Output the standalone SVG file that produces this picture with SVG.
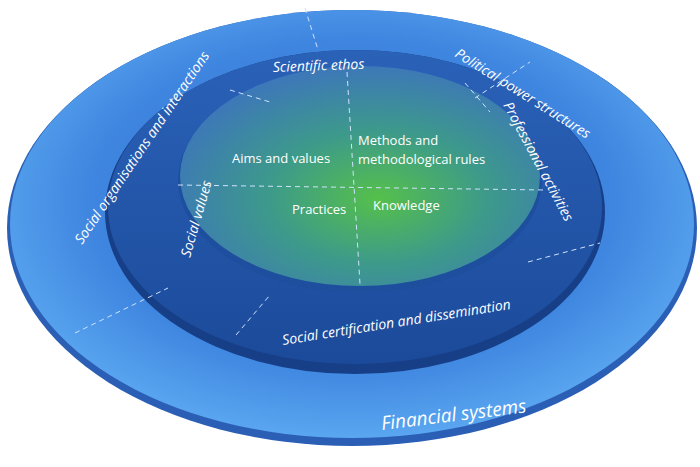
<svg xmlns="http://www.w3.org/2000/svg" width="700" height="467" viewBox="0 0 700 467">
<defs>
<radialGradient id="outer" cx="0.5" cy="0.45" r="0.55">
<stop offset="0" stop-color="#2f6fd0"/><stop offset="0.7" stop-color="#3f86e0"/><stop offset="1" stop-color="#5aa6f0"/>
</radialGradient>
<linearGradient id="mid" x1="0" y1="0" x2="0" y2="1">
<stop offset="0" stop-color="#2a62b8"/><stop offset="1" stop-color="#1c4a9a"/>
</linearGradient>
<radialGradient id="inner" cx="0.55" cy="0.6" r="0.6">
<stop offset="0" stop-color="#56c04a"/><stop offset="0.5" stop-color="#3d9a8a"/><stop offset="1" stop-color="#3d78b8"/>
</radialGradient>
<style>
text{font-family:"Open Sans","DejaVu Sans",sans-serif;fill:#fff;font-style:italic}
.d{stroke:#cfe3ff;stroke-width:1;stroke-dasharray:5 4;fill:none}
.s{font-size:14px}
.m{font-size:13px;font-style:normal}
</style>
</defs>
<g id="outer-ring">
<ellipse cx="352" cy="228" rx="345" ry="218" fill="#2a5fb5"/>
<ellipse cx="352" cy="224" rx="342" ry="214" fill="url(#outer)"/>
</g>
<g id="middle-ring">
<ellipse cx="355" cy="212" rx="250" ry="162" fill="#173f88"/>
<ellipse cx="355" cy="207" rx="247" ry="157" fill="url(#mid)"/>
</g>
<g id="inner-disc">
<ellipse cx="360" cy="180" rx="182" ry="113" fill="#1d4f9e"/>
<ellipse cx="360" cy="176" rx="180" ry="110" fill="url(#inner)"/>
</g>
<g id="connectors">
<path class="d" d="M305 8 L318 50"/>
<path class="d" d="M475 98 L530 62"/>
<path class="d" d="M528 262 L600 243"/>
<path class="d" d="M75 333 L168 288"/>
<path class="d" d="M230 90 L270 102"/>
<path class="d" d="M465 83 L490 112"/>
<path class="d" d="M236 335 L270 295"/>
<path class="d" d="M178 185 L545 190"/>
<path class="d" d="M347 72 L360 284"/>
</g>
<g id="labels">
<text class="s" x="0" y="0" transform="translate(82 245) rotate(-56)">Social organisations and interactions</text>
<text class="s" x="0" y="0" transform="translate(454 56) rotate(32)">Political power structures</text>
<text class="s" x="273" y="72" transform="rotate(-2 273 72)">Scientific ethos</text>
<text class="s" x="0" y="0" transform="translate(503 105) rotate(62)">Professional activities</text>
<text class="s" x="0" y="0" transform="translate(190 258) rotate(-74)">Social values</text>
<text class="s" x="283" y="345" transform="rotate(-9 283 345)">Social certification and dissemination</text>
<text x="382" y="430" font-size="19" transform="rotate(-7 382 430)">Financial systems</text>
<text class="m" x="232" y="163">Aims and values</text>
<text class="m" x="358" y="145" font-size="12.5">Methods and</text>
<text class="m" x="358" y="164" font-size="12.5">methodological rules</text>
<text class="m" x="292" y="214">Practices</text>
<text class="m" x="373" y="210">Knowledge</text>
</g>
</svg>
